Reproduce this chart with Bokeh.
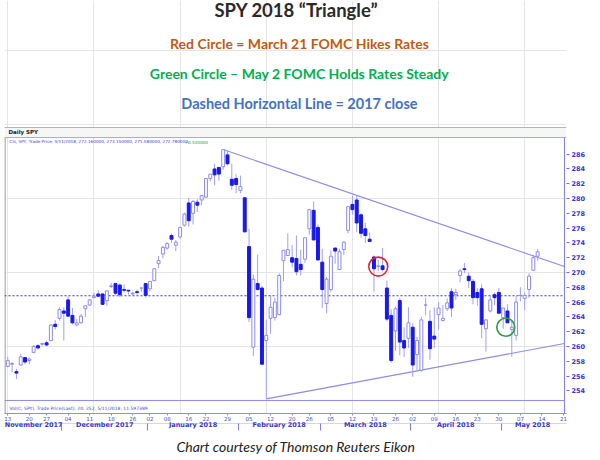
import numpy as np
import pandas as pd
from bokeh.plotting import figure
from bokeh.models import Range1d, LinearAxis, FixedTicker, Title, ColumnDataSource
from bokeh.core.properties import value
from bokeh.embed import file_html
from bokeh.resources import INLINE

# ---------------- data ----------------
holidays = ["2017-11-23", "2017-12-25", "2018-01-01", "2018-01-15",
            "2018-02-19", "2018-03-30"]
all_days = [d for d in pd.bdate_range("2017-11-13", "2018-05-21")
            if d.strftime("%Y-%m-%d") not in holidays]

opens = [257.3, 257.6, 256.6, 257.5, 258.5, 258.1, 259.2, 260.1, 260.3, 260.5,
         260.8, 263.0, 263.8, 264.8, 266.3, 264.2, 262.9, 263.2, 265.1, 265.6,
         266.6, 267.1, 267.1, 266.2, 268.1, 268.5, 268.3, 267.7, 267.6, 267.1,
         267.4, 267.9, 268.5, 267.8, 268.9, 271.2, 272.5, 273.3, 275.0, 273.7,
         274.8, 276.4, 279.4, 278.0, 279.5, 279.8, 280.2, 282.7, 284.0, 284.2,
         284.3, 285.9, 282.6, 282.7, 281.1, 280.1, 273.5, 259.9, 268.5, 267.9,
         260.8, 263.8, 263.9, 264.3, 271.6, 272.3, 272.0, 271.9, 271.1, 271.8,
         275.9, 278.4, 276.1, 271.4, 265.8, 267.7, 273.3, 270.4, 273.1, 275.7,
         279.2, 279.8, 277.8, 275.9, 274.5, 272.1, 270.8, 270.9, 267.9, 264.2,
         262.1, 266.2, 260.8, 261.1, 262.6, 258.9, 256.8, 265.6, 263.4, 261.4,
         264.3, 263.5, 265.1, 267.4, 267.0, 269.6, 270.5, 269.5, 268.8, 267.3,
         267.8, 262.4, 264.8, 267.0, 267.3, 263.9, 264.8, 262.3, 261.5, 266.9,
         266.5, 267.7, 270.3, 272.2]
highs = [258.6, 257.9, 257.0, 259.0, 258.6, 258.5, 260.2, 260.3, 260.5, 260.8,
         263.0, 263.6, 265.3, 265.3, 266.8, 265.2, 263.7, 264.4, 265.5, 266.4,
         267.3, 267.6, 267.2, 267.6, 268.6, 268.5, 268.5, 268.4, 267.6, 267.4,
         267.7, 267.9, 268.5, 268.8, 270.6, 272.2, 273.6, 274.1, 275.3, 274.4,
         276.1, 278.1, 280.1, 279.8, 279.9, 280.4, 282.7, 283.3, 284.7, 284.3,
         286.6, 286.4, 284.7, 283.3, 283.1, 280.2, 275.9, 269.7, 272.4, 268.2,
         263.6, 267.0, 266.6, 269.9, 273.0, 275.3, 273.7, 275.0, 273.1, 274.7,
         278.6, 279.6, 276.5, 273.2, 269.4, 273.0, 273.4, 273.2, 274.2, 278.9,
         280.4, 280.4, 278.0, 276.7, 275.4, 272.3, 271.7, 273.3, 268.9, 265.0,
         265.4, 266.6, 262.6, 265.3, 263.1, 261.3, 264.0, 266.6, 264.9, 265.3,
         266.0, 265.6, 266.5, 267.9, 267.8, 270.5, 271.3, 270.0, 269.1, 267.9,
         268.4, 263.6, 266.8, 267.3, 267.9, 265.2, 265.7, 263.4, 266.8, 268.0,
         267.3, 269.9, 272.4, 273.2]
lows = [257.2, 256.5, 255.6, 257.4, 257.6, 257.6, 259.2, 259.6, 260.1, 260.0,
        260.7, 262.3, 263.5, 260.8, 264.1, 263.0, 262.7, 263.1, 264.0, 265.5,
        266.6, 266.7, 265.6, 265.5, 267.9, 266.9, 266.7, 267.3, 267.0, 266.9,
        267.0, 267.4, 266.6, 267.4, 268.9, 270.6, 271.9, 273.1, 274.0, 272.9,
        274.6, 276.2, 276.2, 276.5, 278.2, 279.1, 280.1, 282.3, 281.8, 282.4,
        283.9, 284.5, 281.2, 280.7, 280.7, 275.4, 263.3, 258.7, 267.6, 257.6,
        252.9, 261.7, 263.5, 264.2, 268.8, 272.3, 270.7, 269.6, 269.6, 271.3,
        275.1, 274.4, 271.6, 265.2, 264.5, 267.4, 271.2, 270.4, 272.4, 275.3,
        277.8, 275.5, 274.7, 274.0, 274.1, 267.4, 270.2, 270.2, 263.4, 257.8,
        259.4, 258.8, 258.6, 259.8, 255.9, 256.8, 256.6, 264.2, 258.2, 259.8,
        262.3, 263.4, 264.8, 264.0, 266.3, 268.7, 269.9, 267.9, 265.7, 265.5,
        261.1, 259.3, 264.6, 265.6, 264.4, 262.4, 263.2, 258.6, 260.8, 266.1,
        264.9, 266.6, 270.3, 271.6]
closes = [258.1, 257.7, 256.4, 258.6, 257.9, 258.3, 260.0, 259.8, 260.4, 260.2,
          262.9, 262.7, 265.0, 264.5, 264.1, 263.2, 263.2, 264.1, 265.5, 266.3,
          266.8, 266.8, 265.7, 267.5, 268.2, 267.2, 267.0, 267.6, 267.5, 267.2,
          267.3, 267.9, 266.9, 268.8, 270.5, 271.6, 273.4, 273.9, 274.5, 274.1,
          276.1, 277.9, 277.0, 279.6, 279.1, 280.4, 282.7, 283.3, 283.2, 283.3,
          286.6, 284.7, 281.8, 281.9, 281.6, 275.5, 263.9, 269.1, 267.7, 257.6,
          261.5, 265.3, 266.0, 269.6, 273.0, 273.1, 271.4, 270.1, 270.4, 274.7,
          278.5, 274.4, 271.7, 267.7, 269.1, 272.2, 272.9, 272.8, 274.1, 278.9,
          278.5, 276.7, 275.3, 275.0, 274.2, 270.5, 270.9, 270.4, 263.7, 258.1,
          265.1, 260.6, 259.8, 263.2, 257.5, 260.8, 263.6, 265.6, 259.7, 261.0,
          265.2, 263.8, 265.9, 265.2, 267.3, 270.2, 270.4, 268.9, 266.6, 266.6,
          263.0, 263.6, 266.3, 266.6, 264.5, 265.2, 263.2, 262.6, 266.0, 266.9,
          266.9, 269.5, 272.0, 272.8]

close_2017 = 266.86
y_ticks = list(range(254, 288, 2))
# triangle trend lines: (index, price) end points
upper_line_x = [50, 129.23]
upper_line_y = [286.63, 270.8]
lower_line_x = [60, 129.23]
lower_line_y = [252.92, 260.4]
# circles (index, price)
red_circle = (86.0, 270.8)
green_circle = (115.6, 262.6)

# ---------------- derived ----------------
n = len(closes)
idx = np.arange(n)
o = np.array(opens); c = np.array(closes)
inc = c >= o
src = ColumnDataSource(dict(x=idx, h=highs, l=lows))
inc_src = ColumnDataSource(dict(x=idx[inc], top=np.maximum(o, c)[inc], bot=np.minimum(o, c)[inc]))
dec_src = ColumnDataSource(dict(x=idx[~inc], top=np.maximum(o, c)[~inc], bot=np.minimum(o, c)[~inc]))

week_ticks, week_labels = [], {}
prev = None
for i, d in enumerate(all_days):
    wk = d.isocalendar()[1]
    if wk != prev:
        week_ticks.append(i)
        week_labels[i] = d.strftime("%d")
    prev = wk

X0, X1 = -0.77, 129.7
Y0, Y1 = 250.94, 306.77
AX = 129.23  # price-axis line position (index units)

month_bounds, month_names = [], []
for i, d in enumerate(all_days):
    if i == 0 or d.month != all_days[i - 1].month:
        if i > 0:
            month_bounds.append(i - 0.5)
        month_names.append(d.strftime("%B %Y"))
edges = [-0.5] + month_bounds + [AX]
month_mids = [round((edges[k] + edges[k + 1]) / 2, 2) for k in range(len(month_names))]
month_labels = {m: name for m, name in zip(month_mids, month_names)}

# ---------------- figure ----------------
p = figure(frame_width=562, frame_height=413, x_range=Range1d(X0, X1), y_range=Range1d(Y0, Y1),
           output_backend="svg", toolbar_location=None,
           x_axis_location=None, y_axis_location=None,
           min_border_left=4, min_border_top=0, min_border_right=34, min_border_bottom=47)
p.outline_line_color = None
p.background_fill_color = "white"
p.border_fill_color = "white"

# titles (inside the top area)
tf = value("Lato")
p.text(x=[67.0], y=[305.48], text=["SPY 2018 \u201cTriangle\u201d"], text_font=tf,
       text_font_size="18.5px", text_font_style="bold", text_color="#2a2a2a",
       text_align="center", text_baseline="middle")
p.text(x=[67.7], y=[300.96], text=["Red Circle = March 21 FOMC Hikes Rates"], text_font=tf,
       text_font_size="14px", text_font_style="bold", text_color="#c55a11",
       text_align="center", text_baseline="middle")
p.text(x=[67.7], y=[296.9], text=["Green Circle \u2013 May 2 FOMC Holds Rates Steady"], text_font=tf,
       text_font_size="14px", text_font_style="bold", text_color="#00b050",
       text_align="center", text_baseline="middle")
p.text(x=[67.7], y=[292.85], text=["Dashed Horizontal Line = 2017 close"], text_font=tf,
       text_font_size="14.5px", text_font_style="bold", text_color="#4472c4",
       text_align="center", text_baseline="middle")

# chart header band
p.quad(left=[X0], right=[X1], bottom=[288.25], top=[289.6], fill_color="#f6f6f6",
       line_color=None)
p.segment(x0=[X0], x1=[X1], y0=[289.6], y1=[289.6], line_color="#b4b4b4", line_width=1)
p.segment(x0=[X0], x1=[X1], y0=[288.25], y1=[288.25], line_color="#a8a8e8", line_width=1)
p.text(x=[0.16], y=[288.93], text=["Daily SPY"], text_font=value("DejaVu Sans"),
       text_font_size="5.5px", text_font_style="bold", text_color="#222222",
       text_baseline="middle")
p.text(x=[0.4], y=[287.7],
       text=["Cls, SPY, Trade Price, 5/11/2018, 272.160000, 273.150000, 271.580000, 272.780000,"],
       text_font=value("DejaVu Sans"), text_font_size="4.2px", text_color="#3c3cd8",
       text_baseline="middle")
p.text(x=[41.0], y=[287.7], text=["+0.530000"], text_font=value("DejaVu Sans"),
       text_font_size="4.2px", text_color="#2aa02a", text_baseline="middle")

# panel borders
p.segment(x0=[X0], x1=[X0], y0=[Y0], y1=[288.25], line_color="#bdbdbd", line_width=3)
p.segment(x0=[AX], x1=[AX], y0=[Y0], y1=[288.25], line_color="#8080ee", line_width=1)
p.segment(x0=[X0], x1=[AX], y0=[252.7], y1=[252.7], line_color="#8c8cee", line_width=1)
p.text(x=[0.4], y=[251.6], text=["Vol(C, SPY), Trade Price(Last),  20, 252, 5/11/2018, 11.597389"],
       text_font=value("DejaVu Sans"), text_font_size="4.5px", text_color="#3c3cd8",
       text_baseline="middle")

# 2017 close dashed line
p.segment(x0=[X0], x1=[AX], y0=[close_2017], y1=[close_2017], line_color="#3535ee",
          line_width=1.2, line_dash="2 2")

# triangle
p.line(upper_line_x, upper_line_y, line_color="#8a8af0", line_width=1.1)
p.line(lower_line_x, lower_line_y, line_color="#8a8af0", line_width=1.1)

# candles
p.segment(x0="x", x1="x", y0="l", y1="h", source=src, line_color="#a0a0f4", line_width=1)
p.vbar(x="x", top="top", bottom="bot", width=0.68, source=inc_src,
       fill_color="white", line_color="#8c8cf2", line_width=1)
p.vbar(x="x", top="top", bottom="bot", width=0.68, source=dec_src,
       fill_color="#1818ee", line_color="#1818ee", line_width=1)

# circles
p.scatter(x=[red_circle[0]], y=[red_circle[1]], marker="circle", size=19,
          fill_color=None, line_color="#e3262b", line_width=1.6)
p.scatter(x=[green_circle[0]], y=[green_circle[1]], marker="circle", size=18,
          fill_color=None, line_color="#2ea043", line_width=1.6)

# axes
yax = LinearAxis(ticker=FixedTicker(ticks=y_ticks),
                 axis_line_color=None, major_tick_in=0, major_tick_out=3,
                 major_tick_line_color="#7070e8", minor_tick_line_color=None,
                 major_label_standoff=2, major_label_text_font="DejaVu Sans",
                 major_label_text_font_size="6.5px", major_label_text_font_style="bold",
                 major_label_text_color="#3535d8")
p.add_layout(yax, "right")

dax = LinearAxis(ticker=FixedTicker(ticks=week_ticks), major_label_overrides=week_labels,
                 axis_line_color="#8c8cee", major_tick_in=0, major_tick_out=2,
                 major_tick_line_color="#8c8cee", minor_tick_line_color=None,
                 major_label_standoff=0, major_label_text_font="DejaVu Sans",
                 major_label_text_font_size="5.5px", major_label_text_color="#4b4bd6")
p.add_layout(dax, "below")

mticks = FixedTicker(ticks=month_mids, minor_ticks=month_bounds)
max_ = LinearAxis(ticker=mticks, major_label_overrides=month_labels,
                  axis_line_color="#d8d8d8", major_tick_in=0, major_tick_out=0,
                  minor_tick_in=0, minor_tick_out=7, minor_tick_line_color="#8080e0",
                  major_label_standoff=-10, major_label_text_font="DejaVu Sans",
                  major_label_text_font_size="6.5px", major_label_text_font_style="bold",
                  major_label_text_color="#3838d0")
p.add_layout(max_, "below")

credit = Title(text="Chart courtesy of Thomson Reuters Eikon", align="left", offset=172,
               text_font="Lato", text_font_style="italic", text_font_size="14px",
               text_color="#222222", standoff=8)
p.add_layout(credit, "below")

open("out.html", "w").write(file_html(p, INLINE))
